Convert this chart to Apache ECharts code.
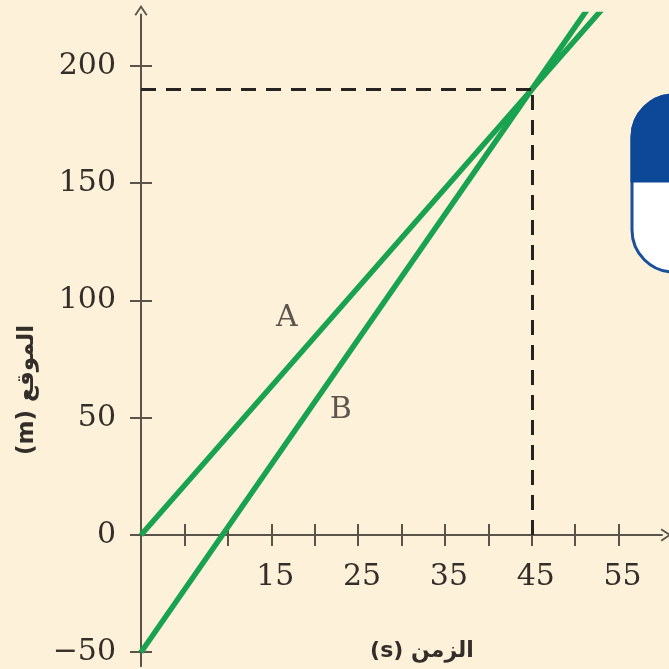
<!DOCTYPE html>
<html>
<head>
<meta charset="utf-8">
<script src="https://cdn.jsdelivr.net/npm/echarts@6/dist/echarts.min.js"></script>
<style>
html,body{margin:0;padding:0;background:#fdf1d9;}
#c{width:669px;height:669px;}
</style>
</head>
<body>
<div id="c"></div>
<script>
// ---- data ----
const xTicks = [5, 10, 15, 20, 25, 30, 35, 40, 45, 50, 55];
const xLabels = [15, 25, 35, 45, 55];
const yTicks = [-50, 0, 50, 100, 150, 200];
const lineA = [[0, 0], [45, 190], [60, 253.3]];
const lineB = [[0, -50], [45, 190], [60, 270]];
const meetPoint = [45, 190];
const seriesLabels = [
  { name: 'A', value: [16.8, 92.5] },
  { name: 'B', value: [23, 53] }
];
const xName = 'الزمن (s)';
const yName = 'الموقع (m)';

const X_MIN = 0, X_MAX = 60, Y_MIN = -56, Y_MAX = 222;

const axisColor = '#5a5349';
const textColor = '#332e29';
const serif = 'DejaVu Serif';
const rtl = s => '\u202B' + s + '\u202C';

const W = 669, H = 669;
const G = { left: 141, right: 7, top: 14.4, bottom: 2.7 };
const gridH = H - G.top - G.bottom;
// offset of x axis from grid bottom so it sits on y = 0
const xAxisOffset = -(0 - Y_MIN) * gridH / (Y_MAX - Y_MIN);

const chart = echarts.init(document.getElementById('c'), null, { renderer: 'canvas' });

const chevron = 'path://M0,0 L6,9 L4.6,10 L0,3 L-4.6,10 L-6,9 Z';

function xAxisBase(inside) {
  return {
    type: 'value', min: X_MIN, max: X_MAX, gridIndex: 0, position: 'bottom', offset: xAxisOffset,
    axisLine: {
      show: true, onZero: false,
      lineStyle: { color: axisColor, width: 2, opacity: inside ? 0 : 1 },
      symbol: inside ? ['none', 'none'] : ['none', chevron], symbolSize: [13, 13], symbolOffset: [0, 4]
    },
    axisTick: { show: true, inside: inside, length: 11, customValues: xTicks,
      lineStyle: { color: axisColor, width: 2 } },
    axisLabel: {
      show: !inside, customValues: xLabels, margin: 27,
      fontFamily: serif, fontSize: 30, color: textColor,
      padding: [0, 0, 0, 8]
    },
    splitLine: { show: false }
  };
}
function yAxisBase(inside) {
  return {
    type: 'value', min: Y_MIN, max: Y_MAX, gridIndex: 0, position: 'left', offset: 0,
    axisLine: {
      show: true, onZero: false,
      lineStyle: { color: axisColor, width: 2, opacity: inside ? 0 : 1 },
      symbol: inside ? ['none', 'none'] : ['none', chevron], symbolSize: [13, 13], symbolOffset: [0, 4]
    },
    axisTick: { show: true, inside: inside, length: 11, customValues: yTicks,
      lineStyle: { color: axisColor, width: 2 } },
    axisLabel: {
      show: !inside, customValues: yTicks, margin: 25,
      fontFamily: serif, fontSize: 30, color: textColor,
      formatter: v => String(v).replace('-', '\u2212')
    },
    splitLine: { show: false }
  };
}

chart.setOption({
  backgroundColor: '#fdf1d9',
  animation: false,
  grid: { left: G.left, right: G.right, top: G.top, bottom: G.bottom, containLabel: false, outerBoundsMode: 'none' },
  xAxis: [xAxisBase(false), xAxisBase(true)],
  yAxis: [yAxisBase(false), yAxisBase(true)],
  graphic: [
    { type: 'text', x: 422, y: 651,
      style: { text: rtl(xName), font: 'bold 22px "DejaVu Sans"', fill: textColor,
        align: 'center', verticalAlign: 'middle' } },
    { type: 'text', x: 27, y: 390, rotation: Math.PI / 2, origin: [0, 0],
      style: { text: rtl(yName), font: 'bold 23px "DejaVu Sans"', fill: textColor,
        align: 'center', verticalAlign: 'middle' } },
    { type: 'rect', shape: { x: 632, y: 95, width: 120, height: 177, r: 42 },
      style: { fill: '#ffffff', stroke: '#1a4f9c', lineWidth: 3 }, z: 10 },
    { type: 'rect', shape: { x: 632, y: 95, width: 120, height: 86, r: [42, 42, 0, 0] },
      style: { fill: '#0d4898', stroke: '#0d4898', lineWidth: 3 }, z: 11 }
  ],
  series: [
    { type: 'line', name: 'A', data: lineA, symbol: 'none', clip: true,
      lineStyle: { color: '#19a24f', width: 5.5 }, z: 3 },
    { type: 'line', name: 'B', data: lineB, symbol: 'none', clip: true,
      lineStyle: { color: '#19a24f', width: 5.5 }, z: 3,
      markLine: {
        silent: true, symbol: ['none', 'none'], label: { show: false },
        lineStyle: { color: '#262320', width: 3, type: [15, 10] },
        data: [
          [{ coord: [0, meetPoint[1]] }, { coord: meetPoint }],
          [{ coord: [meetPoint[0], 0] }, { coord: meetPoint }]
        ]
      }
    },
    { type: 'scatter', data: seriesLabels, symbolSize: 0, z: 5,
      label: { show: true, position: 'inside', formatter: '{b}',
        fontFamily: serif, fontSize: 30, color: textColor } }
  ]
});
</script>
</body>
</html>
